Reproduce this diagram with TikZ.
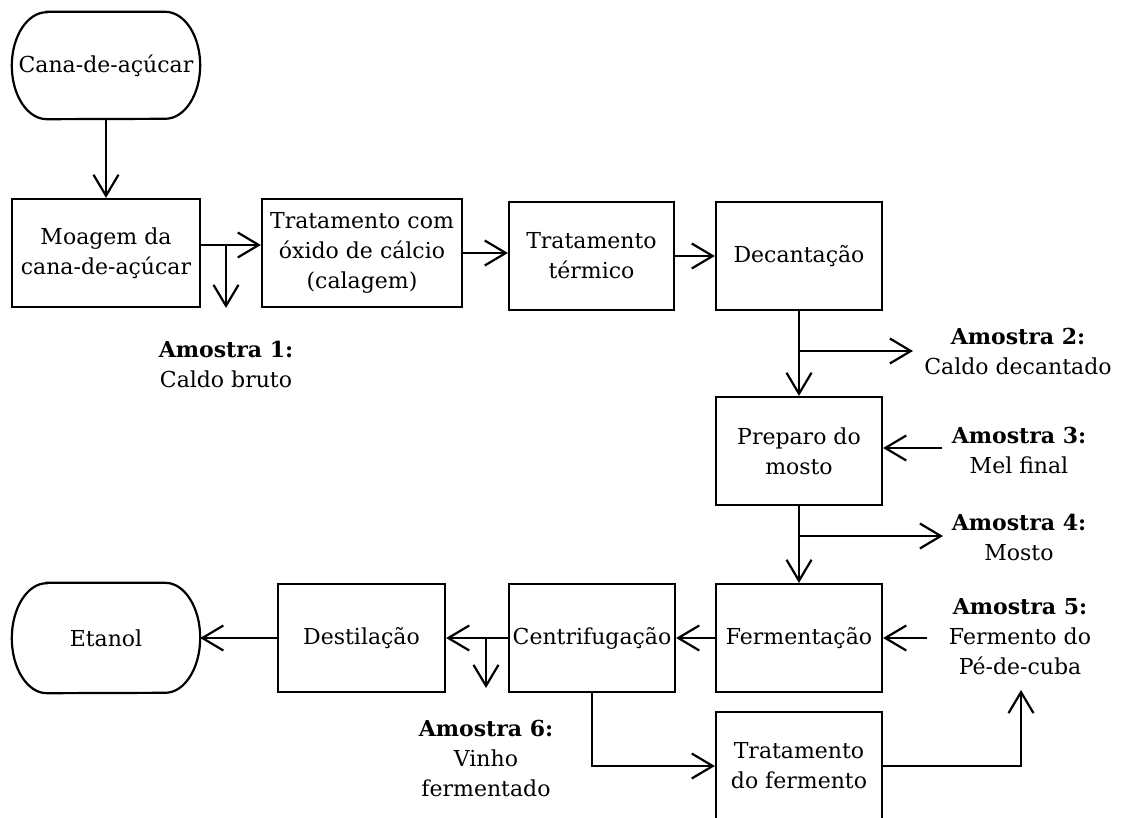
\documentclass[tikz,border=0pt]{standalone}
\usepackage{fontspec}
\setmainfont{DejaVu Serif}
\usetikzlibrary{arrows.meta}
\newcommand{\fsz}{\fontsize{22pt}{30pt}\selectfont}
\begin{document}
\begin{tikzpicture}[x=1pt,y=-1pt,
  box/.style={draw, line width=2.2pt, minimum width=166pt, minimum height=108pt, align=center, inner sep=0.5pt, font=\fsz},
  term/.style={minimum width=188pt, minimum height=107pt, align=center, inner sep=0.5pt, font=\fsz},
  lbl/.style={align=center, inner sep=1pt, font=\fsz},
  arr/.style={line width=2.2pt, -{Straight Barb[length=21pt,width=25pt,line width=2.2pt]}},
  ln/.style={line width=2.2pt}]
\useasboundingbox (0,0) rectangle (1124,818);
% nodes
\node[term] (cana) at (106,65.5) {Cana-de-açúcar};
\node[box, minimum width=188pt] (moagem) at (106,253) {Moagem da\\cana-de-açúcar};
\node[box, minimum width=200pt] (calagem) at (362,253) {Tratamento com\\óxido de cálcio\\(calagem)};
\node[box, minimum width=165pt] (termico) at (591.5,256) {Tratamento\\térmico};
\node[box] (decant) at (799,256) {Decantação};
\node[box] (preparo) at (799,451) {Preparo do\\mosto};
\node[box] (ferment) at (799,638) {Fermentação};
\node[box] (centrif) at (592,638) {Centrifugação};
\node[box, minimum width=167pt] (destil) at (361.5,638) {Destilação};
\node[term, minimum height=110pt] (etanol) at (106,638) {Etanol};
\node[box] (tratferm) at (799,766) {Tratamento\\do fermento};
% terminal outlines
\draw[ln] ([xshift=35pt]cana.north west) -- ([xshift=-35pt]cana.north east)
  arc[start angle=90,end angle=-90,x radius=35pt,y radius=53.5pt]
  -- ([xshift=35pt]cana.south west)
  arc[start angle=270,end angle=90,x radius=35pt,y radius=53.5pt] -- cycle;
\draw[ln] ([xshift=35pt]etanol.north west) -- ([xshift=-35pt]etanol.north east)
  arc[start angle=90,end angle=-90,x radius=35pt,y radius=55pt]
  -- ([xshift=35pt]etanol.south west)
  arc[start angle=270,end angle=90,x radius=35pt,y radius=55pt] -- cycle;
% labels
\node[lbl] (a1) at (226,364) {\textbf{Amostra 1:}\\Caldo bruto};
\node[lbl] (a2) at (1018,351) {\textbf{Amostra 2:}\\Caldo decantado};
\node[lbl] (a3) at (1019,450) {\textbf{Amostra 3:}\\Mel final};
\node[lbl] (a4) at (1019,537) {\textbf{Amostra 4:}\\Mosto};
\node[lbl] (a5) at (1020,637) {\textbf{Amostra 5:}\\Fermento do\\Pé-de-cuba};
\node[lbl] (a6) at (486,758) {\textbf{Amostra 6:}\\Vinho\\fermentado};
% coordinates
\coordinate (b1) at (226,245);
\coordinate (s1) at (226,308);
\coordinate (b2) at (799,351);
\coordinate (s2) at (913,351);
\coordinate (s3) at (942,448);
\coordinate (b4) at (799,536);
\coordinate (s4) at (943,536);
\coordinate (s5) at (927,638);
\coordinate (b6) at (486,638);
\coordinate (s6) at (486,688);
\coordinate (t5) at (1021,690);
% connectors
\draw[arr] (cana.south) -- (moagem.north);
\draw[arr] ([yshift=8pt]moagem.east) -- ([yshift=8pt]moagem.east -| calagem.west);
\draw[arr] (b1) -- (s1);
\draw[arr] (calagem.east) -- (calagem.east -| termico.west);
\draw[arr] (termico.east) -- (termico.east -| decant.west);
\draw[arr] (decant.south) -- (preparo.north);
\draw[arr] (b2) -- (s2);
\draw[arr] (s3) -- (s3 -| preparo.east);
\draw[arr] (preparo.south) -- (ferment.north);
\draw[arr] (b4) -- (s4);
\draw[arr] (s5) -- (ferment.east);
\draw[arr] (ferment.west) -- (centrif.east);
\draw[arr] (centrif.west) -- (destil.east);
\draw[arr] (b6) -- (s6);
\draw[arr] (destil.west) -- (etanol.east);
\draw[arr] (centrif.south) |- (tratferm.west);
\draw[arr] (tratferm.east) -| (t5);
\end{tikzpicture}
\end{document}
